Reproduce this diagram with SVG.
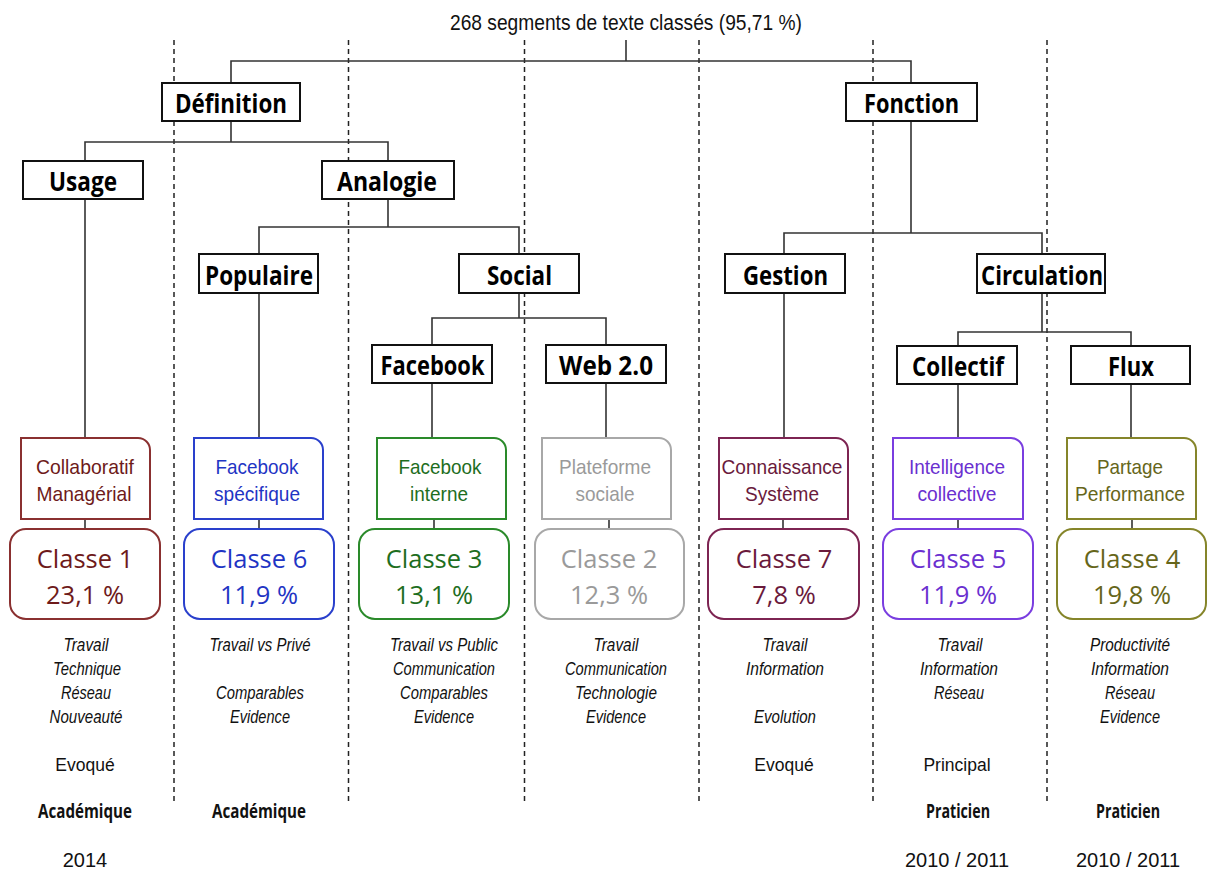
<svg xmlns="http://www.w3.org/2000/svg" width="1207" height="872" viewBox="0 0 1207 872">
<style>
.bg{fill:#ffffff}
.dash{stroke:#222;stroke-width:1.5;stroke-dasharray:5 4;fill:none}
.con{stroke:#333;stroke-width:1.6;fill:none}
.nb{fill:#fff;stroke:#111;stroke-width:2}
.nl{font-family:"Open Sans","Noto Sans",sans-serif;font-weight:700;font-size:27px;fill:#000;text-anchor:middle}
.top{font-family:"Liberation Sans",Arial,sans-serif;font-size:22px;fill:#111;text-anchor:middle}
.ub{fill:#fff;stroke-width:2}
.cb{fill:#fff;stroke-width:2}
.ut{font-family:"Liberation Sans",Arial,sans-serif;font-size:21px;text-anchor:middle}
.ct{font-family:"Open Sans","Noto Sans",sans-serif;font-size:25.5px;text-anchor:middle}
.it{font-family:"Liberation Sans",Arial,sans-serif;font-style:italic;font-size:18.5px;fill:#111;text-anchor:middle}
.rg{font-family:"Liberation Sans",Arial,sans-serif;font-size:17.5px;fill:#111;text-anchor:middle}
.bd{font-family:"Open Sans","Noto Sans",sans-serif;font-weight:700;font-size:19px;fill:#111;text-anchor:middle}
.yr{font-family:"Liberation Sans",Arial,sans-serif;font-size:20px;fill:#111;text-anchor:middle}
.c1{stroke:#8a3030;fill:#6e1a1a}
.c6{stroke:#2a40cc;fill:#1f35c4}
.c3{stroke:#2a8a2a;fill:#1e6e1e}
.c2{stroke:#a8a8a8;fill:#9a9a9a}
.c7{stroke:#7d2452;fill:#6a1a3c}
.c5{stroke:#7a3ee0;fill:#6a30d0}
.c4{stroke:#85852a;fill:#66661a}
</style>
<rect class="bg" x="0" y="0" width="1207" height="872"/>

<g id="separators">
<line class="dash" x1="174" y1="40" x2="174" y2="804"/>
<line class="dash" x1="348.5" y1="40" x2="348.5" y2="804"/>
<line class="dash" x1="524.5" y1="40" x2="524.5" y2="804"/>
<line class="dash" x1="699" y1="40" x2="699" y2="804"/>
<line class="dash" x1="873" y1="40" x2="873" y2="804"/>
<line class="dash" x1="1047" y1="40" x2="1047" y2="804"/>
</g>

<g id="connectors">
<polyline class="con" points="626,40 626,61"/>
<polyline class="con" points="231,83 231,61 911,61 911,83"/>
<polyline class="con" points="231,121 231,142"/>
<polyline class="con" points="85,161 85,142 388,142 388,161"/>
<polyline class="con" points="85,199 85,438"/>
<polyline class="con" points="388,199 388,227"/>
<polyline class="con" points="259,254 259,227 519,227 519,254"/>
<polyline class="con" points="259,293 259,438"/>
<polyline class="con" points="519,293 519,318"/>
<polyline class="con" points="432,345 432,318 606,318 606,345"/>
<polyline class="con" points="432,383 432,438"/>
<polyline class="con" points="606,383 606,438"/>
<polyline class="con" points="911,121 911,233"/>
<polyline class="con" points="784,254 784,233 1042,233 1042,254"/>
<polyline class="con" points="784,293 784,438"/>
<polyline class="con" points="1042,293 1042,332"/>
<polyline class="con" points="958,346 958,332 1131,332 1131,346"/>
<polyline class="con" points="958,384 958,438"/>
<polyline class="con" points="1131,384 1131,438"/>
<line class="con" x1="85" y1="519" x2="85" y2="529"/>
<line class="con" x1="259" y1="519" x2="259" y2="529"/>
<line class="con" x1="434" y1="519" x2="434" y2="529"/>
<line class="con" x1="609" y1="519" x2="609" y2="529"/>
<line class="con" x1="783" y1="519" x2="783" y2="529"/>
<line class="con" x1="958" y1="519" x2="958" y2="529"/>
<line class="con" x1="1132" y1="519" x2="1132" y2="529"/>
</g>

<g id="root"><text class="top" x="626" y="30" textLength="352" lengthAdjust="spacingAndGlyphs">268 segments de texte classés (95,71 %)</text></g>

<g id="n-definition"><rect class="nb" x="162" y="83" width="138" height="38"/><text class="nl" x="231" y="113" textLength="112" lengthAdjust="spacingAndGlyphs">Définition</text></g>
<g id="n-fonction"><rect class="nb" x="846" y="83" width="131" height="38"/><text class="nl" x="911.5" y="113" textLength="95" lengthAdjust="spacingAndGlyphs">Fonction</text></g>
<g id="n-usage"><rect class="nb" x="23" y="161" width="120" height="38"/><text class="nl" x="83" y="191" textLength="68" lengthAdjust="spacingAndGlyphs">Usage</text></g>
<g id="n-analogie"><rect class="nb" x="322" y="161" width="132" height="38"/><text class="nl" x="387" y="191" textLength="100" lengthAdjust="spacingAndGlyphs">Analogie</text></g>
<g id="n-populaire"><rect class="nb" x="199" y="254" width="119" height="39"/><text class="nl" x="259" y="285" textLength="108" lengthAdjust="spacingAndGlyphs">Populaire</text></g>
<g id="n-social"><rect class="nb" x="459" y="254" width="120" height="39"/><text class="nl" x="519.5" y="285" textLength="65" lengthAdjust="spacingAndGlyphs">Social</text></g>
<g id="n-gestion"><rect class="nb" x="725" y="254" width="120" height="39"/><text class="nl" x="785.5" y="285" textLength="85" lengthAdjust="spacingAndGlyphs">Gestion</text></g>
<g id="n-circulation"><rect class="nb" x="977" y="254" width="128" height="39"/><text class="nl" x="1042" y="285" textLength="122" lengthAdjust="spacingAndGlyphs">Circulation</text></g>
<g id="n-facebook"><rect class="nb" x="372" y="345" width="120" height="38"/><text class="nl" x="432.5" y="375" textLength="104" lengthAdjust="spacingAndGlyphs">Facebook</text></g>
<g id="n-web"><rect class="nb" x="546" y="345" width="120" height="38"/><text class="nl" x="606" y="375" textLength="94" lengthAdjust="spacingAndGlyphs">Web 2.0</text></g>
<g id="n-collectif"><rect class="nb" x="897" y="346" width="120" height="38"/><text class="nl" x="958" y="376" textLength="92" lengthAdjust="spacingAndGlyphs">Collectif</text></g>
<g id="n-flux"><rect class="nb" x="1071" y="346" width="119" height="38"/><text class="nl" x="1131" y="376" textLength="46" lengthAdjust="spacingAndGlyphs">Flux</text></g>

<g id="u-c1" class="c1"><path class="ub" d="M21,438 H138 A12,12 0 0 1 150,450 V519 H21 Z"/><text class="ut" x="85" y="474" stroke="none" textLength="98" lengthAdjust="spacingAndGlyphs">Collaboratif</text><text class="ut" x="84" y="501" stroke="none" textLength="95" lengthAdjust="spacingAndGlyphs">Managérial</text></g>
<g id="u-c6" class="c6"><path class="ub" d="M194,438 H311 A12,12 0 0 1 323,450 V519 H194 Z"/><text class="ut" x="257" y="474" stroke="none" textLength="83" lengthAdjust="spacingAndGlyphs">Facebook</text><text class="ut" x="257" y="501" stroke="none" textLength="86" lengthAdjust="spacingAndGlyphs">spécifique</text></g>
<g id="u-c3" class="c3"><path class="ub" d="M377,438 H494 A12,12 0 0 1 506,450 V519 H377 Z"/><text class="ut" x="440" y="474" stroke="none" textLength="83" lengthAdjust="spacingAndGlyphs">Facebook</text><text class="ut" x="439" y="501" stroke="none" textLength="58" lengthAdjust="spacingAndGlyphs">interne</text></g>
<g id="u-c2" class="c2"><path class="ub" d="M542,438 H659 A12,12 0 0 1 671,450 V519 H542 Z"/><text class="ut" x="605" y="474" stroke="none" textLength="92" lengthAdjust="spacingAndGlyphs">Plateforme</text><text class="ut" x="605" y="501" stroke="none" textLength="59" lengthAdjust="spacingAndGlyphs">sociale</text></g>
<g id="u-c7" class="c7"><path class="ub" d="M719,438 H836 A12,12 0 0 1 848,450 V519 H719 Z"/><text class="ut" x="782" y="474" stroke="none" textLength="121" lengthAdjust="spacingAndGlyphs">Connaissance</text><text class="ut" x="782" y="501" stroke="none" textLength="74" lengthAdjust="spacingAndGlyphs">Système</text></g>
<g id="u-c5" class="c5"><path class="ub" d="M893,438 H1011 A12,12 0 0 1 1023,450 V519 H893 Z"/><text class="ut" x="957" y="474" stroke="none" textLength="96" lengthAdjust="spacingAndGlyphs">Intelligence</text><text class="ut" x="957" y="501" stroke="none" textLength="79" lengthAdjust="spacingAndGlyphs">collective</text></g>
<g id="u-c4" class="c4"><path class="ub" d="M1067,438 H1184 A12,12 0 0 1 1196,450 V519 H1067 Z"/><text class="ut" x="1130" y="474" stroke="none" textLength="66" lengthAdjust="spacingAndGlyphs">Partage</text><text class="ut" x="1130" y="501" stroke="none" textLength="110" lengthAdjust="spacingAndGlyphs">Performance</text></g>

<g id="k-c1" class="c1"><rect class="cb" x="10" y="529" width="150" height="90" rx="16"/><text class="ct" x="85" y="568" stroke="none">Classe 1</text><text class="ct" x="85" y="604" stroke="none">23,1 %</text></g>
<g id="k-c6" class="c6"><rect class="cb" x="184" y="529" width="150" height="90" rx="16"/><text class="ct" x="259" y="568" stroke="none">Classe 6</text><text class="ct" x="259" y="604" stroke="none">11,9 %</text></g>
<g id="k-c3" class="c3"><rect class="cb" x="359" y="529" width="150" height="90" rx="16"/><text class="ct" x="434" y="568" stroke="none">Classe 3</text><text class="ct" x="434" y="604" stroke="none">13,1 %</text></g>
<g id="k-c2" class="c2"><rect class="cb" x="535" y="529" width="149" height="90" rx="16"/><text class="ct" x="609" y="568" stroke="none">Classe 2</text><text class="ct" x="609" y="604" stroke="none">12,3 %</text></g>
<g id="k-c7" class="c7"><rect class="cb" x="708" y="529" width="151" height="90" rx="16"/><text class="ct" x="784" y="568" stroke="none">Classe 7</text><text class="ct" x="784" y="604" stroke="none">7,8 %</text></g>
<g id="k-c5" class="c5"><rect class="cb" x="883" y="529" width="150" height="90" rx="16"/><text class="ct" x="958" y="568" stroke="none">Classe 5</text><text class="ct" x="958" y="604" stroke="none">11,9 %</text></g>
<g id="k-c4" class="c4"><rect class="cb" x="1057" y="529" width="149" height="90" rx="16"/><text class="ct" x="1132" y="568" stroke="none">Classe 4</text><text class="ct" x="1132" y="604" stroke="none">19,8 %</text></g>

<g id="d-c1">
<text class="it" x="86" y="651" textLength="45" lengthAdjust="spacingAndGlyphs">Travail</text>
<text class="it" x="87" y="675" textLength="68" lengthAdjust="spacingAndGlyphs">Technique</text>
<text class="it" x="86" y="699" textLength="50" lengthAdjust="spacingAndGlyphs">Réseau</text>
<text class="it" x="86" y="723" textLength="73" lengthAdjust="spacingAndGlyphs">Nouveauté</text>
<text class="rg" x="85" y="771">Evoqué</text>
<text class="bd" x="85" y="818" textLength="94" lengthAdjust="spacingAndGlyphs">Académique</text>
<text class="yr" x="85" y="867">2014</text>
</g>
<g id="d-c6">
<text class="it" x="260" y="651" textLength="101" lengthAdjust="spacingAndGlyphs">Travail vs Privé</text>
<text class="it" x="260" y="699" textLength="88" lengthAdjust="spacingAndGlyphs">Comparables</text>
<text class="it" x="260" y="723" textLength="60" lengthAdjust="spacingAndGlyphs">Evidence</text>
<text class="bd" x="259" y="818" textLength="94" lengthAdjust="spacingAndGlyphs">Académique</text>
</g>
<g id="d-c3">
<text class="it" x="444" y="651" textLength="108" lengthAdjust="spacingAndGlyphs">Travail vs Public</text>
<text class="it" x="444" y="675" textLength="102" lengthAdjust="spacingAndGlyphs">Communication</text>
<text class="it" x="444" y="699" textLength="88" lengthAdjust="spacingAndGlyphs">Comparables</text>
<text class="it" x="444" y="723" textLength="60" lengthAdjust="spacingAndGlyphs">Evidence</text>
</g>
<g id="d-c2">
<text class="it" x="616" y="651" textLength="45" lengthAdjust="spacingAndGlyphs">Travail</text>
<text class="it" x="616" y="675" textLength="102" lengthAdjust="spacingAndGlyphs">Communication</text>
<text class="it" x="616" y="699" textLength="82" lengthAdjust="spacingAndGlyphs">Technologie</text>
<text class="it" x="616" y="723" textLength="60" lengthAdjust="spacingAndGlyphs">Evidence</text>
</g>
<g id="d-c7">
<text class="it" x="785" y="651" textLength="45" lengthAdjust="spacingAndGlyphs">Travail</text>
<text class="it" x="785" y="675" textLength="78" lengthAdjust="spacingAndGlyphs">Information</text>
<text class="it" x="785" y="723" textLength="62" lengthAdjust="spacingAndGlyphs">Evolution</text>
<text class="rg" x="784" y="771">Evoqué</text>
</g>
<g id="d-c5">
<text class="it" x="960" y="651" textLength="45" lengthAdjust="spacingAndGlyphs">Travail</text>
<text class="it" x="959" y="675" textLength="78" lengthAdjust="spacingAndGlyphs">Information</text>
<text class="it" x="959" y="699" textLength="50" lengthAdjust="spacingAndGlyphs">Réseau</text>
<text class="rg" x="957" y="771">Principal</text>
<text class="bd" x="958" y="818" textLength="64" lengthAdjust="spacingAndGlyphs">Praticien</text>
<text class="yr" x="957" y="867">2010 / 2011</text>
</g>
<g id="d-c4">
<text class="it" x="1130" y="651" textLength="80" lengthAdjust="spacingAndGlyphs">Productivité</text>
<text class="it" x="1130" y="675" textLength="78" lengthAdjust="spacingAndGlyphs">Information</text>
<text class="it" x="1130" y="699" textLength="50" lengthAdjust="spacingAndGlyphs">Réseau</text>
<text class="it" x="1130" y="723" textLength="60" lengthAdjust="spacingAndGlyphs">Evidence</text>
<text class="bd" x="1128" y="818" textLength="64" lengthAdjust="spacingAndGlyphs">Praticien</text>
<text class="yr" x="1128" y="867">2010 / 2011</text>
</g>
</svg>
